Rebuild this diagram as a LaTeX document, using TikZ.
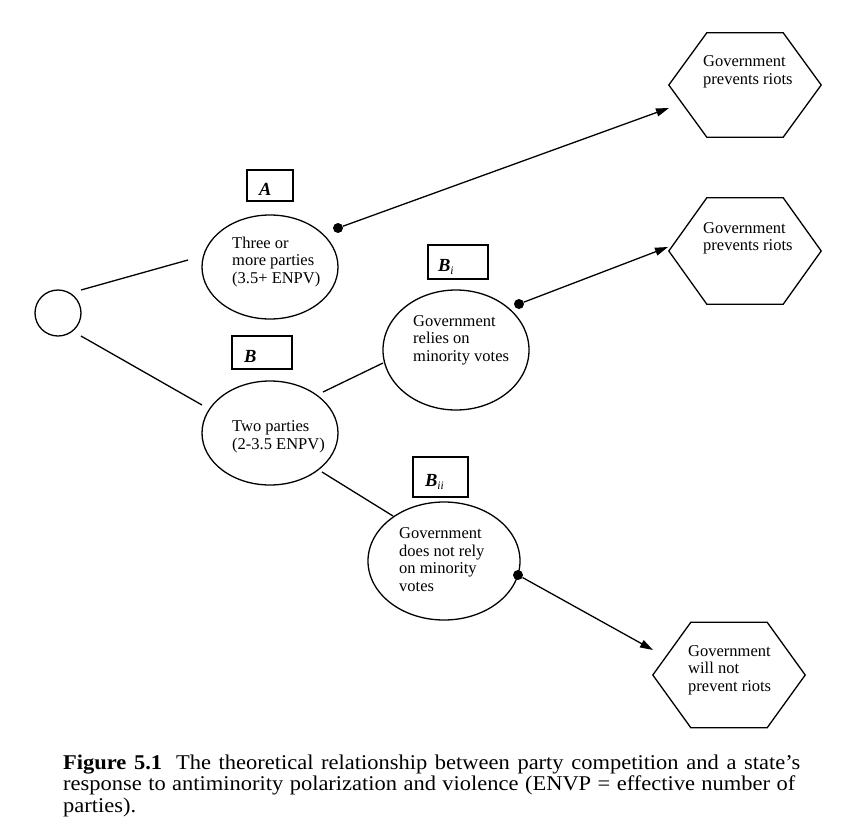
\documentclass[tikz,border=0pt]{standalone}
\usepackage{fontspec}
\setmainfont{Liberation Serif}
\usetikzlibrary{arrows.meta,shapes.geometric,calc}
\tikzset{
  ln/.style={line width=1.3pt},
  oval/.style={ellipse, draw, line width=1.3pt, inner sep=0pt},
  txt/.style={align=left, inner sep=0pt, font=\fontsize{16.5}{17.5}\selectfont, anchor=west},
  labbox/.style={draw, line width=1.3pt, inner xsep=12pt, inner ysep=0pt, text height=19pt, text depth=0pt, font=\fontsize{18.5}{18.5}\selectfont\bfseries\itshape},
  hexbox/.style={inner sep=0pt, minimum width=152pt},
  dotnode/.style={circle, fill, inner sep=0pt, minimum size=10pt},
  arr/.style={line width=1.3pt, -{Triangle[length=13pt,width=8pt]}},
  captxt/.style={inner sep=0pt, anchor=base west, font=\fontsize{21}{21.5}\selectfont},
}
\newcommand\subi[1]{\raisebox{-3pt}{\fontsize{11.5}{11.5}\selectfont\mdseries\itshape #1}}
\begin{document}
\begin{tikzpicture}[x=1pt,y=-1pt]
\useasboundingbox[fill=white] (0,0) rectangle (864,825);

% start circle
\node[circle, draw, line width=1.3pt, inner sep=0pt, minimum size=46pt] (S) at (58,313) {};

% ellipses
\node[oval, minimum width=136pt, minimum height=104pt] (A) at (270,267) {};
\node[oval, minimum width=136pt, minimum height=104pt] (B) at (270,433) {};
\node[oval, minimum width=146pt, minimum height=120pt] (Bi) at (456,350) {};
\node[oval, minimum width=152pt, minimum height=118pt] (Bii) at (444,561) {};

\node[txt] (At) at (232,262) {Three or\\more parties\\(3.5+ ENPV)};
\node[txt] (Bt) at (232,437) {Two parties\\(2-3.5 ENPV)};
\node[txt] (Bit) at (413,340) {Government\\relies on\\minority votes};
\node[txt] (Biit) at (399,559.5) {Government\\does not rely\\on minority\\votes};

% label boxes
\node[labbox, minimum height=31pt] (LA) at (270,185.5) {\makebox[22pt][l]{A}};
\node[labbox, minimum height=33pt] (LB) at (262,352.5) {\makebox[36pt][l]{B}};
\node[labbox, minimum height=34pt] (LBi) at (458,262) {\makebox[36pt][l]{\hspace{-2pt}B\subi{i}}};
\node[labbox, minimum height=40pt] (LBii) at (440.5,477) {\makebox[31pt][l]{B\subi{ii}}};

% hexagons
\node[hexbox, minimum height=104pt] (H1) at (745,85) {};
\node[hexbox, minimum height=106pt] (H2) at (745,251) {};
\node[hexbox, minimum height=105pt] (H3) at (729,675) {};
\foreach \h in {H1,H2,H3}{
  \draw[ln] (\h.west) -- ([xshift=38pt]\h.north west) -- ([xshift=-38pt]\h.north east)
    -- (\h.east) -- ([xshift=-38pt]\h.south east) -- ([xshift=38pt]\h.south west) -- cycle;
}
\node[txt] (H1t) at (703,72) {Government\\prevents riots};
\node[txt] (H2t) at (703,238.5) {Government\\prevents riots};
\node[txt] (H3t) at (688,670) {Government\\will not\\prevent riots};

% connector end points
\coordinate (sA1) at (81,290);
\coordinate (sA2) at (188,260);
\coordinate (sB1) at (81,336);
\coordinate (sB2) at (202,405);
\coordinate (bBi1) at (323,392);
\coordinate (bBi2) at (383,363);
\coordinate (bBii1) at (322,472);
\coordinate (bBii2) at (393,516);

\draw[ln] (sA1) -- (sA2);
\draw[ln] (sB1) -- (sB2);
\draw[ln] (bBi1) -- (bBi2);
\draw[ln] (bBii1) -- (bBii2);

% dots and arrows
\node[dotnode] (dA) at (338,228) {};
\node[dotnode] (dBi) at (519,304) {};
\node[dotnode] (dBii) at (518,575) {};
\coordinate (tA) at (669,108);
\coordinate (tBi) at (668,247);
\coordinate (tBii) at (653,650);
\draw[arr] (dA) -- (tA);
\draw[arr] (dBi) -- (tBi);
\draw[arr] (dBii) -- (tBii);

% caption
\node[captxt] (cap1) at (63,769) {\scalebox{1.07}[1]{\makebox[688.8pt][s]{\textbf{Figure 5.1}\hspace{13pt}The theoretical relationship between party competition and a state’s}}};
\node[captxt] (cap2) at (63,790.5) {\scalebox{1.07}[1]{\makebox[684.1pt][s]{response to antiminority polarization and violence (ENVP = effective number of}}};
\node[captxt] (cap3) at (63,812) {\scalebox{1.07}[1]{parties).}};
\end{tikzpicture}
\end{document}
